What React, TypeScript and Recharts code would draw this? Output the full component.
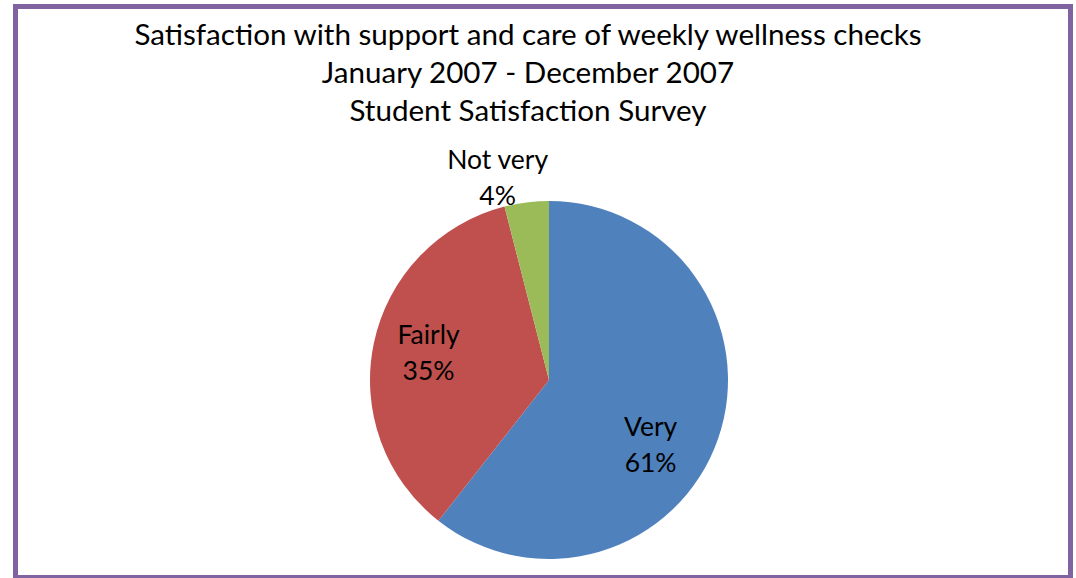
import React from 'react';
import { PieChart, Pie, Cell } from 'recharts';

const categories = ['Very', 'Fairly', 'Not very'];
const values = [60.6, 35.4, 4.0];
const sliceColors = ['#4f81bd', '#c0504d', '#9bbb59'];
const titleLines = [
  'Satisfaction with support and care of weekly wellness checks',
  'January 2007 - December 2007',
  'Student Satisfaction Survey',
];

const data = categories.map((name, i) => ({ name, value: values[i] }));

const RAD = Math.PI / 180;
const FONT = 'Lato, "Open Sans", sans-serif';

// label placement tweaks (radius factor relative to outer radius, angle offset in degrees)
const placement = [
  { rf: 0.67, da: -13 },
  { rf: 0.69, da: -1 },
  { rf: 1.17, da: 7 },
];

const renderLabel = (props: any) => {
  const { cx, cy, midAngle, outerRadius, index, name, percent } = props;
  const p = placement[index];
  const r = outerRadius * p.rf;
  const a = (midAngle + p.da) * RAD;
  const x = cx + r * Math.cos(-a);
  const y = cy + r * Math.sin(-a);
  const pct = Math.round(percent * 100) + '%';
  return (
    <g>
      <text x={x} y={y - 18} textAnchor="middle" dominantBaseline="central" fill="#000" fontSize={26.5} fontFamily={FONT}>
        {name}
      </text>
      <text x={x} y={y + 18} textAnchor="middle" dominantBaseline="central" fill="#000" fontSize={26.5} fontFamily={FONT}>
        {pct}
      </text>
    </g>
  );
};

export default function App() {
  return (
    <div style={{ position: 'absolute', left: 0, top: 0, width: 1076, height: 578, overflow: 'hidden', background: '#fff' }}>
      <div
        style={{
          position: 'absolute',
          left: 13,
          top: 4,
          width: 1060,
          height: 576,
          boxSizing: 'border-box',
          border: '5px solid #8064a2',
        }}
      />
      <div
        style={{
          position: 'absolute',
          left: 0,
          top: 15,
          width: 1056,
          textAlign: 'center',
          fontFamily: FONT,
          fontSize: 29.6,
          lineHeight: '38px',
          color: '#000',
        }}
      >
        {titleLines.map((t, i) => (
          <div key={i}>{t}</div>
        ))}
      </div>
      <div style={{ position: 'absolute', left: 0, top: 0 }}>
        <PieChart width={1076} height={578} margin={{ top: 0, right: 0, bottom: 0, left: 0 }}>
          <Pie
            data={data}
            dataKey="value"
            nameKey="name"
            cx={549}
            cy={380}
            outerRadius={179}
            startAngle={90}
            endAngle={-270}
            stroke="none"
            labelLine={false}
            label={renderLabel}
            isAnimationActive={false}
          >
            {data.map((d, i) => (
              <Cell key={d.name} fill={sliceColors[i]} />
            ))}
          </Pie>
        </PieChart>
      </div>
    </div>
  );
}
